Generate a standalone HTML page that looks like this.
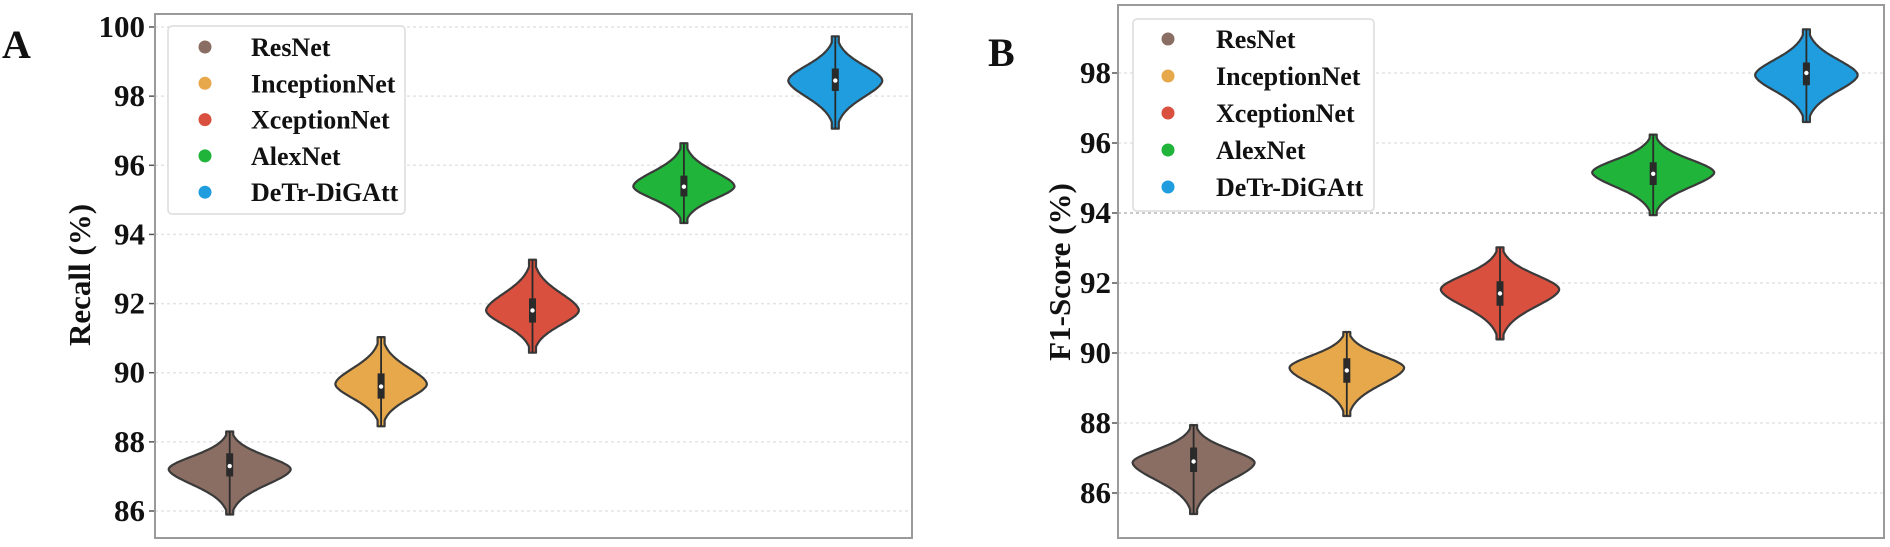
<!DOCTYPE html>
<html><head><meta charset="utf-8">
<style>
html,body{margin:0;padding:0;background:#fff;}
svg{display:block;}
text{font-family:"Liberation Serif",serif;font-weight:bold;fill:#111;}
</style></head>
<body>
<svg id="fig" width="1890" height="547" viewBox="0 0 1890 547" xmlns="http://www.w3.org/2000/svg">
  <g id="panelA"></g>
  <g id="panelB"></g>
</svg>
<script>
// ---- shared data ----
const categories = ["ResNet","InceptionNet","XceptionNet","AlexNet","DeTr-DiGAtt"];
const colors = ["#8b6e63","#e6a84a","#d9503e","#20b43a","#1f9ddf"];

// Panel A: Recall (%)
const recallMin    = [85.9, 88.45, 90.58, 94.33, 97.06];
const recallMax    = [88.3, 91.03, 93.27, 96.64, 99.73];
const recallPeak   = [87.21, 89.67, 91.8, 95.39, 98.45];
const recallMedian = [87.3, 89.6, 91.8, 95.38, 98.45];
const recallQ1     = [87.0, 89.25, 91.45, 95.1, 98.15];
const recallQ3     = [87.67, 89.98, 92.15, 95.7, 98.8];
const recallDensity= [1.0, 0.75, 0.76, 0.83, 0.77];
const recallTicks  = [86,88,90,92,94,96,98,100];

// Panel B: F1-Score (%)
const f1Min    = [85.4, 88.2, 90.39, 93.94, 96.6];
const f1Max    = [87.94, 90.6, 93.02, 96.24, 99.25];
const f1Peak   = [86.87, 89.58, 91.82, 95.16, 97.94];
const f1Median = [86.9, 89.5, 91.7, 95.12, 98.0];
const f1Q1     = [86.6, 89.15, 91.35, 94.8, 97.65];
const f1Q3     = [87.3, 89.85, 92.05, 95.45, 98.3];
const f1Density= [1.0, 0.94, 0.97, 1.0, 0.84];
const f1Ticks  = [86,88,90,92,94,96,98];

const NS = "http://www.w3.org/2000/svg";
function mk(parent, tag, attrs){
  const e = document.createElementNS(NS, tag);
  for (const k in attrs) e.setAttribute(k, attrs[k]);
  parent.appendChild(e);
  return e;
}

function drawPanel(g, cfg){
  const {left,right,top,bottom,vA,yA,vB,yB} = cfg;
  const yScale = v => yA + (v - vA) * (yB - yA) / (vB - vA);
  const n = categories.length;
  const band = (right - left) / n;
  const xScale = i => left + band * (i + 0.5) + cfg.xShift;
  const maxHalf = cfg.maxHalf;

  cfg.ticks.forEach(t => {
    const y = yScale(t);
    const dark = cfg.darkGrid === t;
    const gl = mk(g, "line", {x1:left, x2:right, y1:y, y2:y, stroke: dark ? "#b8b8b8" : "#e4e4e4", "stroke-width": dark ? 1.6 : 1.5, "stroke-dasharray":"3,3"});
    
    
    const tk = mk(g, "line", {x1:left-6, x2:left, y1:y, y2:y, stroke:"#555", "stroke-width":1.5});
    
    
    const tl = mk(g, "text", {x:cfg.tickRight, y:y+10, "text-anchor":"end", "font-size":31});
    tl.textContent = t;
    
    
  });

  const fr = mk(g, "rect", {x:left, y:top, width:right-left, height:bottom-top, fill:"none", stroke:"#9a9a9a", "stroke-width":2});
  
  

  for (let i = 0; i < n; i++){
    const cx = xScale(i);
    const mn = cfg.min[i], mx = cfg.max[i], pk = cfg.peak[i];
    const W = maxHalf * cfg.dens[i];
    const sUp = (mx - pk) / 2.9, sDn = (pk - mn) / 2.9;
    const N = 90, pts = [];
    for (let k = 0; k <= N; k++){
      const v = mn + (mx - mn) * k / N;
      const z = v >= pk ? (v - pk) / sUp : (pk - v) / sDn;
      let w = W * Math.exp(-0.5 * Math.pow(z, 1.8));
      w = Math.max(w, 3.5);
      pts.push([v, w]);
    }
    let d = "";
    pts.forEach((p, k) => { d += (k ? "L" : "M") + (cx + p[1]).toFixed(1) + "," + yScale(p[0]).toFixed(1); });
    for (let k = pts.length - 1; k >= 0; k--){ d += "L" + (cx - pts[k][1]).toFixed(1) + "," + yScale(pts[k][0]).toFixed(1); }
    d += "Z";
    const vp = mk(g, "path", {d:d, fill:colors[i], stroke:"#3a3a3a", "stroke-width":2.2, "stroke-linejoin":"round"});
    
    
    const wl = mk(g, "line", {x1:cx, x2:cx, y1:yScale(mx), y2:yScale(mn), stroke:"#2a2a2a", "stroke-width":1.8});
    
    
    const bx = mk(g, "rect", {x:cx-3.5, y:yScale(cfg.q3[i]), width:7, height:yScale(cfg.q1[i]) - yScale(cfg.q3[i]), fill:"#2a2a2a"});
    
    
    const md = mk(g, "circle", {cx:cx, cy:yScale(cfg.median[i]), r:2.2, fill:"#fff"});
    
    
  }

  const L = cfg.legend;
  const lg = mk(g, "g", {});
  
  
  mk(lg, "rect", {x:L.x, y:L.y, width:L.w, height:L.h, rx:4, fill:"#fff", stroke:"#dcdcdc", "stroke-width":1.5});
  categories.forEach((c, i) => {
    const yy = L.firstY + i * L.step;
    const eg = mk(lg, "g", {});
    
    
    mk(eg, "circle", {cx:L.dotX, cy:yy, r:6.5, fill:colors[i]});
    const t = mk(eg, "text", {x:L.textX, y:yy+9, "font-size":26});
    t.textContent = c;
  });

  const al = mk(g, "text", {x:0, y:0, "font-size":31, "text-anchor":"middle", transform:`translate(${cfg.labelX},${cfg.labelY}) rotate(-90)`});
  al.textContent = cfg.label;
  
  

  const pl = mk(g, "text", {x:cfg.letterX, y:cfg.letterY, "font-size":40});
  pl.textContent = cfg.letter;
  
  
}

drawPanel(document.getElementById("panelA"), {
  left:155, right:912, top:14, bottom:538, vA:86, yA:511, vB:100, yB:27, xShift:-1,
  maxHalf:61, ticks:recallTicks, tickRight:145, darkGrid:null,
  min:recallMin, max:recallMax, peak:recallPeak, median:recallMedian, q1:recallQ1, q3:recallQ3, dens:recallDensity,
  legend:{x:168, y:26, w:237, h:188, firstY:47, step:36.3, dotX:205, textX:251},
  label:"Recall (%)", labelX:90, labelY:275, letter:"A", letterX:2, letterY:58
});
drawPanel(document.getElementById("panelB"), {
  left:1118, right:1884, top:5, bottom:538, vA:86, yA:493, vB:98, yB:73, xShift:-1,
  maxHalf:61, ticks:f1Ticks, tickRight:1111, darkGrid:94,
  min:f1Min, max:f1Max, peak:f1Peak, median:f1Median, q1:f1Q1, q3:f1Q3, dens:f1Density,
  legend:{x:1133, y:19, w:241, h:192, firstY:39, step:37, dotX:1168, textX:1216},
  label:"F1-Score (%)", labelX:1070, labelY:272, letter:"B", letterX:988, letterY:66
});
</script>
</body></html>
